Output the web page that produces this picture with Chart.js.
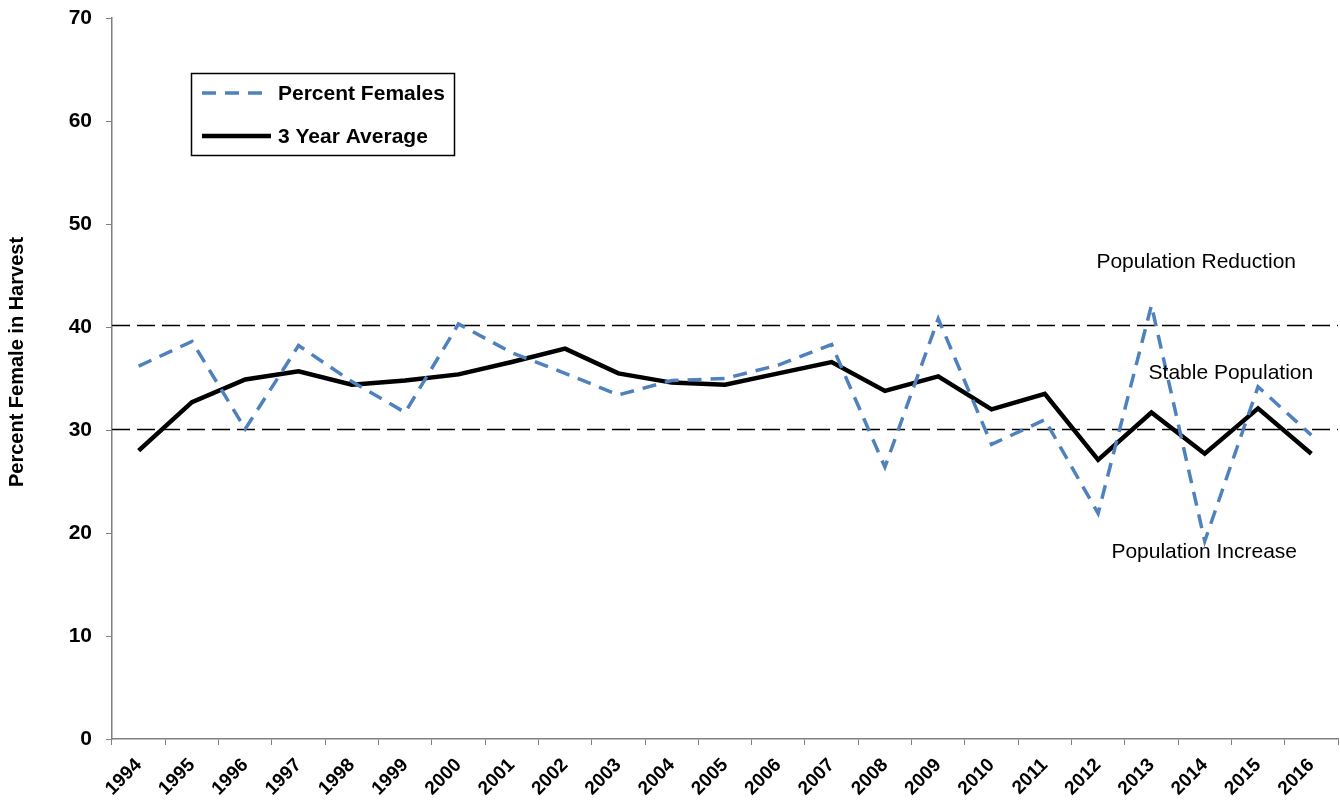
<!DOCTYPE html>
<html>
<head>
<meta charset="utf-8">
<title>Percent Female in Harvest</title>
<script src="https://cdn.jsdelivr.net/npm/chart.js@4/dist/chart.umd.min.js"></script>
<style>
  html, body { margin: 0; padding: 0; background: #fff; }
  canvas { display: block; }
</style>
</head>
<body>
<canvas id="harvestChart" width="1340" height="804"></canvas>
<script>
// data
const years = ['1994', '1995', '1996', '1997', '1998', '1999', '2000', '2001', '2002', '2003', '2004', '2005',
    '2006', '2007', '2008', '2009', '2010', '2011', '2012', '2013', '2014', '2015', '2016'];
const percentFemales = [36.2, 38.6, 30.1, 38.2, 34.7, 31.7, 40.3, 37.5, 35.5, 33.4, 34.8, 35.0,
    36.3, 38.3, 26.4, 40.8, 28.6, 31.0, 21.9, 42.1, 19.2, 34.2, 29.5];
const threeYearAverage = [28.0, 32.7, 34.9, 35.7, 34.4, 34.8, 35.4, 36.6, 37.9, 35.5, 34.6, 34.4,
    35.5, 36.6, 33.8, 35.2, 32.0, 33.5, 27.1, 31.7, 27.7, 32.1, 27.7];
const thresholds = [40.2, 30.1];
const zoneLabels = ['Population Reduction', 'Stable Population', 'Population Increase'];
const zoneLabelValues = [46.3, 35.5, 18.1];

const FONT = '"Liberation Sans", Arial, sans-serif';

// dashed threshold lines + the zone text
const thresholdPlugin = {
    id: 'thresholds',
    beforeDatasetsDraw(chart) {
        const { ctx, chartArea, scales } = chart;
        ctx.save();
        ctx.strokeStyle = '#000';
        ctx.lineWidth = 1.6;
        ctx.setLineDash([18, 7]);
        thresholds.forEach((value) => {
            const y = Math.round(scales.y.getPixelForValue(value)) + 0.5;
            ctx.beginPath();
            ctx.moveTo(chartArea.left, y);
            ctx.lineTo(chartArea.right, y);
            ctx.stroke();
        });
        ctx.restore();
    },
    afterDatasetsDraw(chart) {
        const { ctx, scales } = chart;
        const xIndex = [19.84, 20.49, 19.99];
        ctx.save();
        ctx.fillStyle = '#000';
        ctx.font = '21px ' + FONT;
        ctx.textAlign = 'center';
        ctx.textBaseline = 'middle';
        zoneLabels.forEach((text, i) => {
            ctx.fillText(text, scales.x.getPixelForValue(xIndex[i]), scales.y.getPixelForValue(zoneLabelValues[i]));
        });
        ctx.restore();
    },
};

// boxed legend in the upper left, plus the y axis title
const boxLegendPlugin = {
    id: 'boxLegend',
    afterDraw(chart) {
        const { ctx } = chart;
        ctx.save();
        ctx.fillStyle = '#fff';
        ctx.fillRect(191, 73, 264, 83);
        ctx.strokeStyle = '#000';
        ctx.lineWidth = 1.5;
        ctx.strokeRect(191.5, 73.5, 263, 82);

        const rows = [93, 136];
        chart.data.datasets.forEach((ds, i) => {
            ctx.strokeStyle = ds.borderColor;
            ctx.lineWidth = ds.borderWidth;
            ctx.setLineDash(ds.borderDash || []);
            ctx.beginPath();
            ctx.moveTo(202, rows[i]);
            ctx.lineTo(271, rows[i]);
            ctx.stroke();
            ctx.setLineDash([]);
            ctx.fillStyle = '#000';
            ctx.font = 'bold 21px ' + FONT;
            ctx.textAlign = 'left';
            ctx.textBaseline = 'middle';
            ctx.fillText(ds.label, 278, rows[i] + 1);
        });

        ctx.translate(17, 362);
        ctx.rotate(-Math.PI / 2);
        ctx.font = 'bold 20px ' + FONT;
        ctx.textAlign = 'center';
        ctx.textBaseline = 'middle';
        ctx.fillText('Percent Female in Harvest', 0, 0);
        ctx.restore();
    },
};

new Chart(document.getElementById('harvestChart'), {
    type: 'line',
    data: {
        labels: years,
        datasets: [
            {
                label: 'Percent Females',
                data: percentFemales,
                borderColor: '#4f81bd',
                borderWidth: 3.5,
                borderDash: [14, 9],
                pointRadius: 0,
                tension: 0,
                fill: false,
            },
            {
                label: '3 Year Average',
                data: threeYearAverage,
                borderColor: '#000000',
                borderWidth: 4.5,
                pointRadius: 0,
                tension: 0,
                fill: false,
            },
        ],
    },
    options: {
        responsive: false,
        animation: false,
        layout: { padding: { top: 18, right: 2, left: 0, bottom: 0 } },
        plugins: {
            legend: { display: false },
            tooltip: { enabled: false },
        },
        scales: {
            x: {
                offset: true,
                grid: {
                    offset: true,
                    drawOnChartArea: false,
                    color: '#808080',
                    tickLength: 6,
                },
                border: { color: '#808080', width: 1.5 },
                ticks: {
                    color: '#000',
                    font: { family: FONT, size: 19, weight: 'bold' },
                    maxRotation: 45,
                    minRotation: 45,
                    autoSkip: false,
                    padding: 9,
                },
                afterFit(scale) { scale.height = 65; },
            },
            y: {
                min: 0,
                max: 70,
                grid: {
                    drawOnChartArea: false,
                    color: '#808080',
                    tickLength: 6,
                },
                border: { color: '#808080', width: 1.5 },
                ticks: {
                    stepSize: 10,
                    color: '#000',
                    font: { family: FONT, size: 21, weight: 'bold' },
                    padding: 14,
                },
                afterFit(scale) {
                    scale.width = 112;
                    scale.paddingTop = 0;
                    scale.paddingBottom = 0;
                },
            },
        },
    },
    plugins: [thresholdPlugin, boxLegendPlugin],
});
</script>
</body>
</html>
